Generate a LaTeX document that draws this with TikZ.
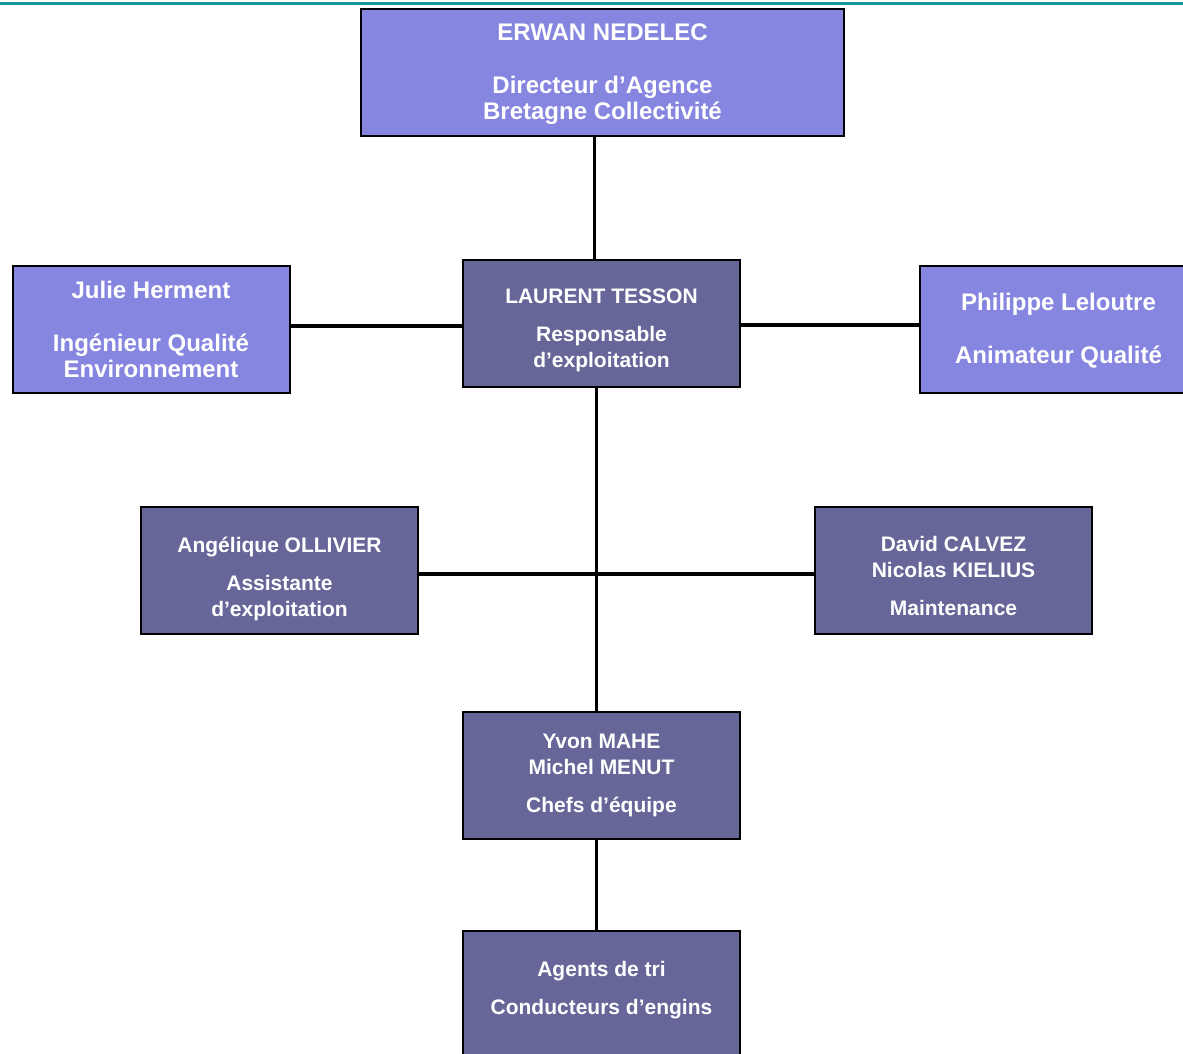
\documentclass[tikz,border=0pt]{standalone}
\usepackage{fontspec}
\setmainfont{Liberation Sans}
\usepackage{tikz}

\definecolor{lightbox}{RGB}{134,134,224}
\definecolor{darkbox}{RGB}{102,102,153}
\definecolor{topline}{RGB}{22,150,148}

% invisible struts to nudge text down (\padtop) or up (\padbot)
\newcommand{\padtop}[1]{\rule{0pt}{#1}}
\newcommand{\padbot}[1]{\rule[-#1]{0pt}{#1}}

\begin{document}
\begin{tikzpicture}[x=1pt,y=-1pt,
	box/.style={shape=rectangle,draw=black,line width=2pt,minimum width=277pt,minimum height=127pt,
		text=white,align=center,font=\bfseries},
	bigbox/.style={box,fill=lightbox,font=\bfseries\fontsize{24}{26}\selectfont},
	smallbox/.style={box,fill=darkbox,font=\bfseries\fontsize{21}{26}\selectfont},
	link/.style={line width=3.5pt,black}]

	\clip (0,0) rectangle (1183,1054);
	\draw[topline,line width=3pt] (0,4) -- (1183,4);

	\node[bigbox,minimum width=483pt] (erwan) at (602.5, 72.5)  {\padtop{21pt}ERWAN NEDELEC\\[27pt]Directeur d'Agence\\Bretagne Collectivité};
	\node[bigbox]   (herment)  at (151, 329.5)    {Julie Herment\\[27pt]Ingénieur Qualité\\Environnement};
	\node[bigbox]   (leloutre) at (1058.5, 329.5) {\padtop{19pt}Philippe Leloutre\\[27pt]Animateur Qualité};
	\node[smallbox] (tesson)   at (601.5, 323.5)  {\padtop{29pt}LAURENT TESSON\\[12pt]Responsable\\d'exploitation};
	\node[smallbox] (ollivier) at (279.5, 570.5)  {\padtop{32pt}Angélique OLLIVIER\\[12pt]Assistante\\d'exploitation};
	\node[smallbox] (calvez)   at (953.5, 570.5)  {\padtop{27pt}David CALVEZ\\Nicolas KIELIUS\\[12pt]Maintenance};
	\node[smallbox] (mahe)     at (601.5, 775.5)  {Yvon MAHE\\Michel MENUT\\[12pt]Chefs d'équipe};
	\node[smallbox] (agents)   at (601.5, 994.5)  {Agents de tri\\[12pt]Conducteurs d'engins\padbot{12.5pt}};

	\draw[link] ([xshift=-8pt]erwan.south) -- ([xshift=-8pt]erwan.south |- tesson.north);
	\draw[link] ([yshift=3.5pt]herment.east) -- ([yshift=3.5pt]herment.east -| tesson.west);
	\draw[link] ([yshift=4.5pt]leloutre.west -| tesson.east) -- ([yshift=4.5pt]leloutre.west);
	\draw[link] ([xshift=-5pt]tesson.south) -- ([xshift=-5pt]tesson.south |- mahe.north);
	\draw[link] ([yshift=-3.5pt]ollivier.east) -- ([yshift=-3.5pt]calvez.west);
	\draw[link] ([xshift=-5pt]mahe.south) -- ([xshift=-5pt]mahe.south |- agents.north);

\end{tikzpicture}
\end{document}
